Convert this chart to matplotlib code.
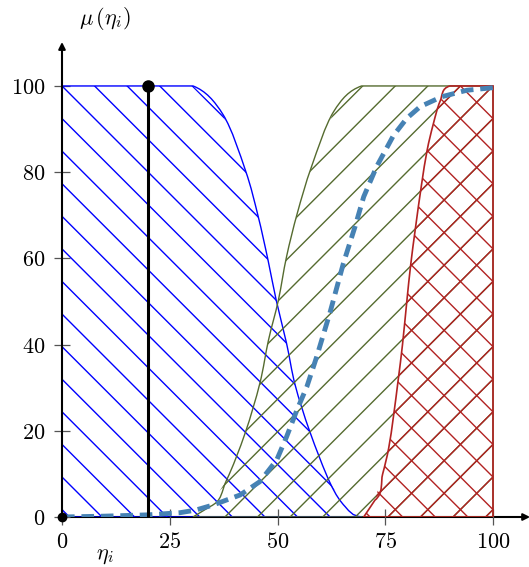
import numpy as np
import matplotlib
matplotlib.use('Agg')
from matplotlib import pyplot as plt
from matplotlib.path import Path
from matplotlib.patches import PathPatch, Polygon
from matplotlib.collections import LineCollection

plt.rcParams['mathtext.fontset'] = 'cm'

# points
blue_x = [30.4, 37.4, 42.6, 45.5, 47.8, 49.7, 52.1, 54.1, 57.5, 62.2, 65.7, 69.5]
blue_y = [100, 93.3, 80.3, 69.8, 59.6, 50.3, 40.3, 30.6, 19.8, 7.9, 2.4, 0]

green_x = [30.4, 34.3, 38.2, 42.5, 45.9, 47.9, 50.2, 52.1, 54.6, 57.9, 63.0, 69.5]
green_y = [0, 2.4, 8.6, 19.5, 31.0, 41.0, 50.3, 60.4, 70.5, 81.3, 94.0, 100]

red_x = [70.0, 72.6, 74.4, 75.8, 76.9, 78.0, 79.0, 80.0, 80.9, 82.0, 83.4, 84.7, 86.1, 87.7, 90.0]
red_y = [0, 3.9, 10.0, 16.0, 23.3, 31.8, 40.0, 50.0, 58.5, 67.0, 77.0, 85.0, 91.0, 96.4, 100]

sig_x = [0, 10, 20, 27.4, 31, 35.1, 41.3, 45.9, 49.8, 52.1, 54.5, 56.8, 59.1, 62.2,
         65.3, 68.0, 70.0, 73.0, 76.9, 80.0, 83.1, 88.1, 93.9, 100]
sig_y = [0, 0.2, 0.5, 1.0, 1.6, 2.8, 5.1, 8.2, 13.2, 18.6, 24.8, 30.2, 37.2, 47.5,
         58.9, 67.4, 74.3, 81.3, 88.5, 92.5, 95.2, 97.5, 99.0, 99.6]

cut_x = 20
x_ticks = [0, 25, 50, 75, 100]
y_ticks = [0, 20, 40, 60, 80, 100]

c_blue = '#0000ff'
c_green = '#556b2f'
c_red = '#b22222'
c_dash = '#4682b4'
step = 7.56  # hatch spacing in data units


def curve_segments(pts, p_prev, p_next):
    ext = [np.array(p_prev, float)] + [np.array(p, float) for p in pts] + [np.array(p_next, float)]
    verts, codes = [], []
    for i in range(1, len(ext) - 2):
        a, b, c, d = ext[i - 1], ext[i], ext[i + 1], ext[i + 2]
        verts += [b + (c - a) / 6, c - (d - b) / 6, c]
        codes += [Path.CURVE4] * 3
    return verts, codes


def outline(ax, start, pts, p_prev, p_next, tail, color, lw, z):
    verts = [start]
    codes = [Path.MOVETO]
    for p in pts[:1]:
        verts.append(p)
        codes.append(Path.LINETO)
    v, c = curve_segments(pts, p_prev, p_next)
    verts += v
    codes += c
    for p in tail:
        verts.append(p)
        codes.append(Path.LINETO)
    ax.add_patch(PathPatch(Path(verts, codes), fc='none', ec=color, lw=lw, zorder=z,
                           capstyle='butt', joinstyle='miter'))


def hatch(ax, poly, color, offsets, kinds, z):
    clip = Polygon(poly, closed=True, fc='none', ec='none', zorder=z)
    ax.add_patch(clip)
    segs = []
    xs = np.array([-50.0, 250.0])
    for kind, off in zip(kinds, offsets):
        for k in range(-40, 40):
            cc = off + k * step
            if kind == 'nw':
                segs.append(list(zip(xs, cc - xs)))
            else:
                segs.append(list(zip(xs, xs + cc)))
    lc = LineCollection(segs, colors=color, linewidths=1.0, zorder=z, antialiaseds=True)
    ax.add_collection(lc)
    lc.set_clip_path(clip)


fig = plt.figure(figsize=(5.29, 5.67), dpi=100)
ax = fig.add_axes([62 / 529, 50 / 567, 467 / 529, 475 / 567])
ax.set_xlim(0, 108.35)
ax.set_ylim(0, 110.2)
for s in ax.spines.values():
    s.set_visible(False)

# axes with arrows
ax.annotate('', xy=(108.6, 0), xytext=(0, 0), annotation_clip=False,
            arrowprops=dict(arrowstyle='-|>', lw=1.5, color='black', mutation_scale=10,
                            shrinkA=0, shrinkB=0), zorder=1)
ax.annotate('', xy=(0, 110.2), xytext=(0, 0), annotation_clip=False,
            arrowprops=dict(arrowstyle='-|>', lw=1.5, color='black', mutation_scale=10,
                            shrinkA=0, shrinkB=0), zorder=10)

blue_pts = list(zip(blue_x, blue_y))
green_pts = list(zip(green_x, green_y))
red_pts = list(zip(red_x, red_y))

# blue set
hatch(ax, [(0, 0), (0, 100)] + blue_pts, c_blue, [100], ['nw'], 2)
outline(ax, (0, 100), blue_pts, (20, 100), (80, 0), [(0, 0)], c_blue, 1.0, 3)

# green set (same phase as the red "/" lines so they coincide)
hatch(ax, green_pts + [(100, 100), (100, 0)], c_green, [0], ['ne'], 4)
outline(ax, green_pts[0], green_pts[1:], (20, 0), (80, 100),
        [(100, 100), (100, 0), green_pts[0]], c_green, 1.0, 5)

# red set
hatch(ax, red_pts + [(100, 100), (100, 0)], c_red, [200, 0], ['nw', 'ne'], 6)
outline(ax, red_pts[0], red_pts[1:], (62, 0), (100, 100),
        [(100, 100), (100, 0), red_pts[0]], c_red, 1.2, 7)

# aggregated curve
ax.plot(sig_x, sig_y, color=c_dash, lw=3.5, dashes=(2.6, 1.4), zorder=8,
        solid_capstyle='butt', dash_capstyle='butt')

# cut line
ax.plot([cut_x, cut_x], [0, 100], color='black', lw=2.2, zorder=9, solid_capstyle='butt')
ax.plot([cut_x], [100], 'o', color='black', markersize=8, zorder=9)
ax.plot([0], [0], 'o', color='black', markersize=6, zorder=11, clip_on=False)

ax.set_xticks(x_ticks)
ax.set_xticklabels(['$%d$' % v for v in x_ticks])
ax.set_yticks(y_ticks)
ax.set_yticklabels(['$%d$' % v for v in y_ticks])
ax.tick_params(direction='inout', length=12, width=0.9, color='#555555', labelsize=16)
ax.tick_params(axis='x', pad=5)
ax.tick_params(axis='y', pad=6)

fig.text(105 / 529, 1 - 18 / 567, r'$\mu\,(\eta_i)$', ha='center', va='center', fontsize=16)
fig.text(105 / 529, 1 - 556 / 567, r'$\eta_i$', ha='center', va='center', fontsize=16)

plt.savefig('out.png', dpi=100)
plt.close()
